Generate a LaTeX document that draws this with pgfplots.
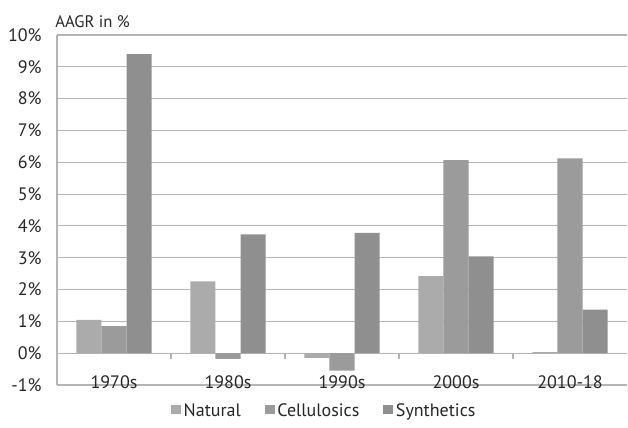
\documentclass[border=0pt]{standalone}
\usepackage{fontspec}
\setmainfont{PT Sans}
\usepackage{pgfplots}
\pgfplotsset{compat=1.18}
\definecolor{natc}{HTML}{ABABAB}
\definecolor{celc}{HTML}{9B9B9B}
\definecolor{sync}{HTML}{8F8F8F}
\definecolor{gridc}{HTML}{B4B4B4}
\begin{document}
\begin{tikzpicture}
\begin{axis}[
  scale only axis, width=427.5pt, height=262.5pt,
  ymin=-1, ymax=10, ytick={-1,0,...,10},
  xmin=-0.5, xmax=4.5,
  xtick={0,...,4}, xticklabels={1970s,1980s,1990s,2000s,2010-18},
  ybar=0pt, bar width=0.22,
  axis x line*=bottom, axis y line*=left,
  axis line style={draw=gridc, line width=0.8pt, -},
  ymajorgrids, grid style={draw=gridc, line width=0.8pt},
  major tick length=0pt,
  /pgf/number format/assume math mode=true,
  yticklabel={\pgfmathprintnumber{\tick}\%},
  tick label style={font=\fontsize{13.5}{15}\selectfont, text=black!85},
  yticklabel style={xshift=-8pt},
  xticklabel style={yshift=10.5pt},
  legend columns=3,
  legend style={draw=none, at={(0.5,0)}, anchor=north, yshift=-10pt, xshift=-13pt,
    font=\fontsize{13.5}{15}\selectfont, text=black!85,
    /tikz/every even column/.append style={column sep=16pt}},
  legend image code/.code={\fill[#1] (0cm,-0.08cm) rectangle (0.26cm,0.18cm);},
  clip=false,
]
\addplot[fill=natc, draw=none] coordinates {(0,1.05) (1,2.26) (2,-0.15) (3,2.42) (4,0.03)};
\addplot[fill=celc, draw=none] coordinates {(0,0.85) (1,-0.18) (2,-0.55) (3,6.07) (4,6.12)};
\addplot[fill=sync, draw=none] coordinates {(0,9.40) (1,3.73) (2,3.78) (3,3.04) (4,1.37)};
\legend{Natural,Cellulosics,Synthetics}
\pgfplotsinvokeforeach{0.5,1.5,2.5,3.5}{
  \draw[gridc, line width=0.8pt] (axis cs:#1,0) -- ([yshift=-4.5pt]axis cs:#1,0);
}
\node[anchor=south west, font=\fontsize{12.5}{14}\selectfont, text=black!85, inner sep=0pt]
  at ([yshift=5pt,xshift=-1.5pt]rel axis cs:0,1) {AAGR in \%};
\path ([xshift=-42.75pt,yshift=-32.25pt]rel axis cs:0,0) rectangle ([xshift=0.75pt,yshift=26.25pt]rel axis cs:1,1);
\end{axis}
\end{tikzpicture}
\end{document}
